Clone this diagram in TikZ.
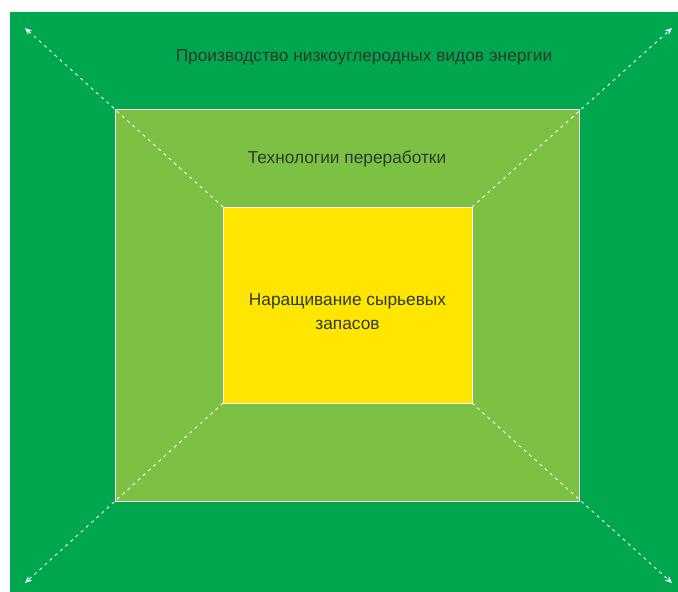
\documentclass[tikz,border=0pt]{standalone}
\usepackage{fontspec}
\setmainfont{Liberation Sans}
\usetikzlibrary{arrows.meta}
\definecolor{darkgr}{HTML}{00A74F}
\definecolor{lightgr}{HTML}{7CC143}
\definecolor{yel}{HTML}{FFE600}
\definecolor{txt}{HTML}{2E3A2E}
\begin{document}
\begin{tikzpicture}[x=1pt,y=-1pt,
  box/.style={draw=white,line width=0.8pt,inner sep=0pt,outer sep=0pt},
  lbl/.style={text=txt,font=\fontsize{17.3}{24}\selectfont,align=center},
  darr/.style={draw=white,line width=0.9pt,dash pattern=on 3pt off 4pt,-{Stealth[length=7pt,width=6pt]}}]
\useasboundingbox (0,0) rectangle (678,592);
\fill[darkgr] (10,12) rectangle (678,592);
\node[box,fill=lightgr,minimum width=464pt,minimum height=392pt] (mid) at (347,305) {};
\node[box,fill=yel,minimum width=249pt,minimum height=196pt] (inn) at (347.5,305) {};
\coordinate (tl) at (25,28);
\coordinate (tr) at (672,28);
\coordinate (bl) at (25,583);
\coordinate (br) at (672,583);
\draw[darr] (inn.north west) -- (tl);
\draw[darr] (inn.north east) -- (tr);
\draw[darr] (inn.south west) -- (bl);
\draw[darr] (inn.south east) -- (br);
\node[lbl] (t1) at (364,57) {Производство низкоуглеродных видов энергии};
\node[lbl] (t2) at (347,159) {Технологии переработки};
\node[lbl] (t3) at (347.5,312) {Наращивание сырьевых\\запасов};
\end{tikzpicture}
\end{document}
